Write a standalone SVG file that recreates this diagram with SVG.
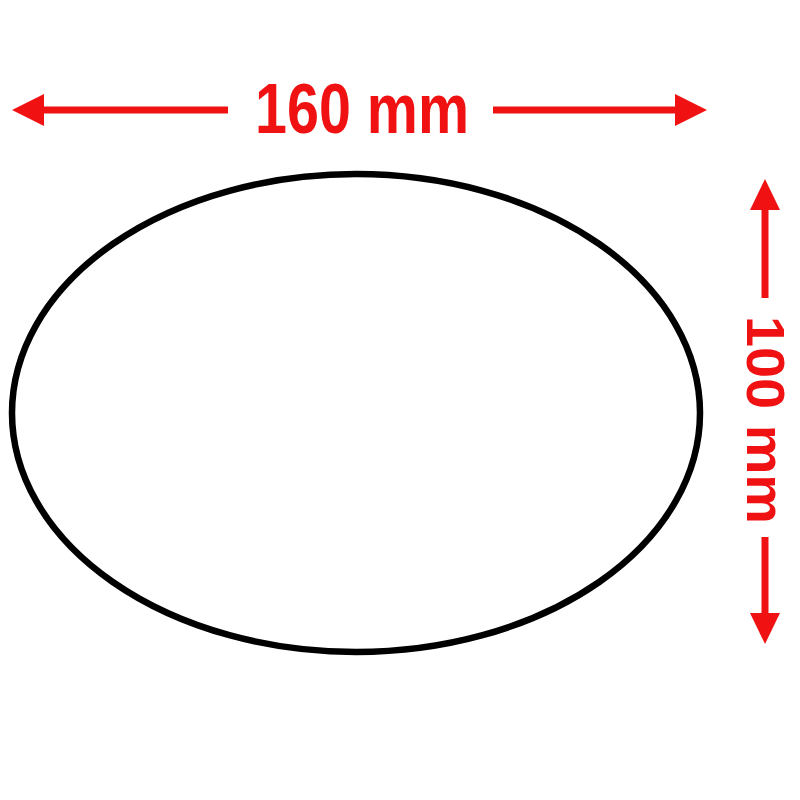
<svg xmlns="http://www.w3.org/2000/svg" width="800" height="800" viewBox="0 0 800 800">
  <style>
    .dim { stroke: #f01212; stroke-width: 7; fill: none; }
    .head { fill: #f01212; }
    .lbl { font-family: "Liberation Sans", Arial, sans-serif; font-weight: bold; fill: #f01212; }
  </style>
  <rect width="800" height="800" fill="#ffffff"/>
  <g id="ellipse">
    <ellipse cx="356" cy="413" rx="344" ry="239" fill="#ffffff" stroke="#000000" stroke-width="6.5"/>
  </g>
  <g id="connectors">
    <line class="dim" x1="42" y1="110" x2="228" y2="110"/>
    <polygon class="head" points="12,110 44,94 44,126"/>
    <line class="dim" x1="493" y1="110" x2="677" y2="110"/>
    <polygon class="head" points="707,110 675,94 675,126"/>
    <line class="dim" x1="765" y1="207" x2="765" y2="298"/>
    <polygon class="head" points="765,179 750,210 780,210"/>
    <line class="dim" x1="765" y1="537" x2="765" y2="616"/>
    <polygon class="head" points="765,644 750,613 780,613"/>
  </g>
  <g id="label-width">
    <text class="lbl" x="362" y="133" font-size="70" text-anchor="middle" textLength="214" lengthAdjust="spacingAndGlyphs">160 mm</text>
  </g>
  <g id="label-height">
    <text class="lbl" transform="translate(747,420) rotate(90)" x="0" y="0" font-size="54" text-anchor="middle" textLength="208" lengthAdjust="spacingAndGlyphs">100 mm</text>
  </g>
</svg>
